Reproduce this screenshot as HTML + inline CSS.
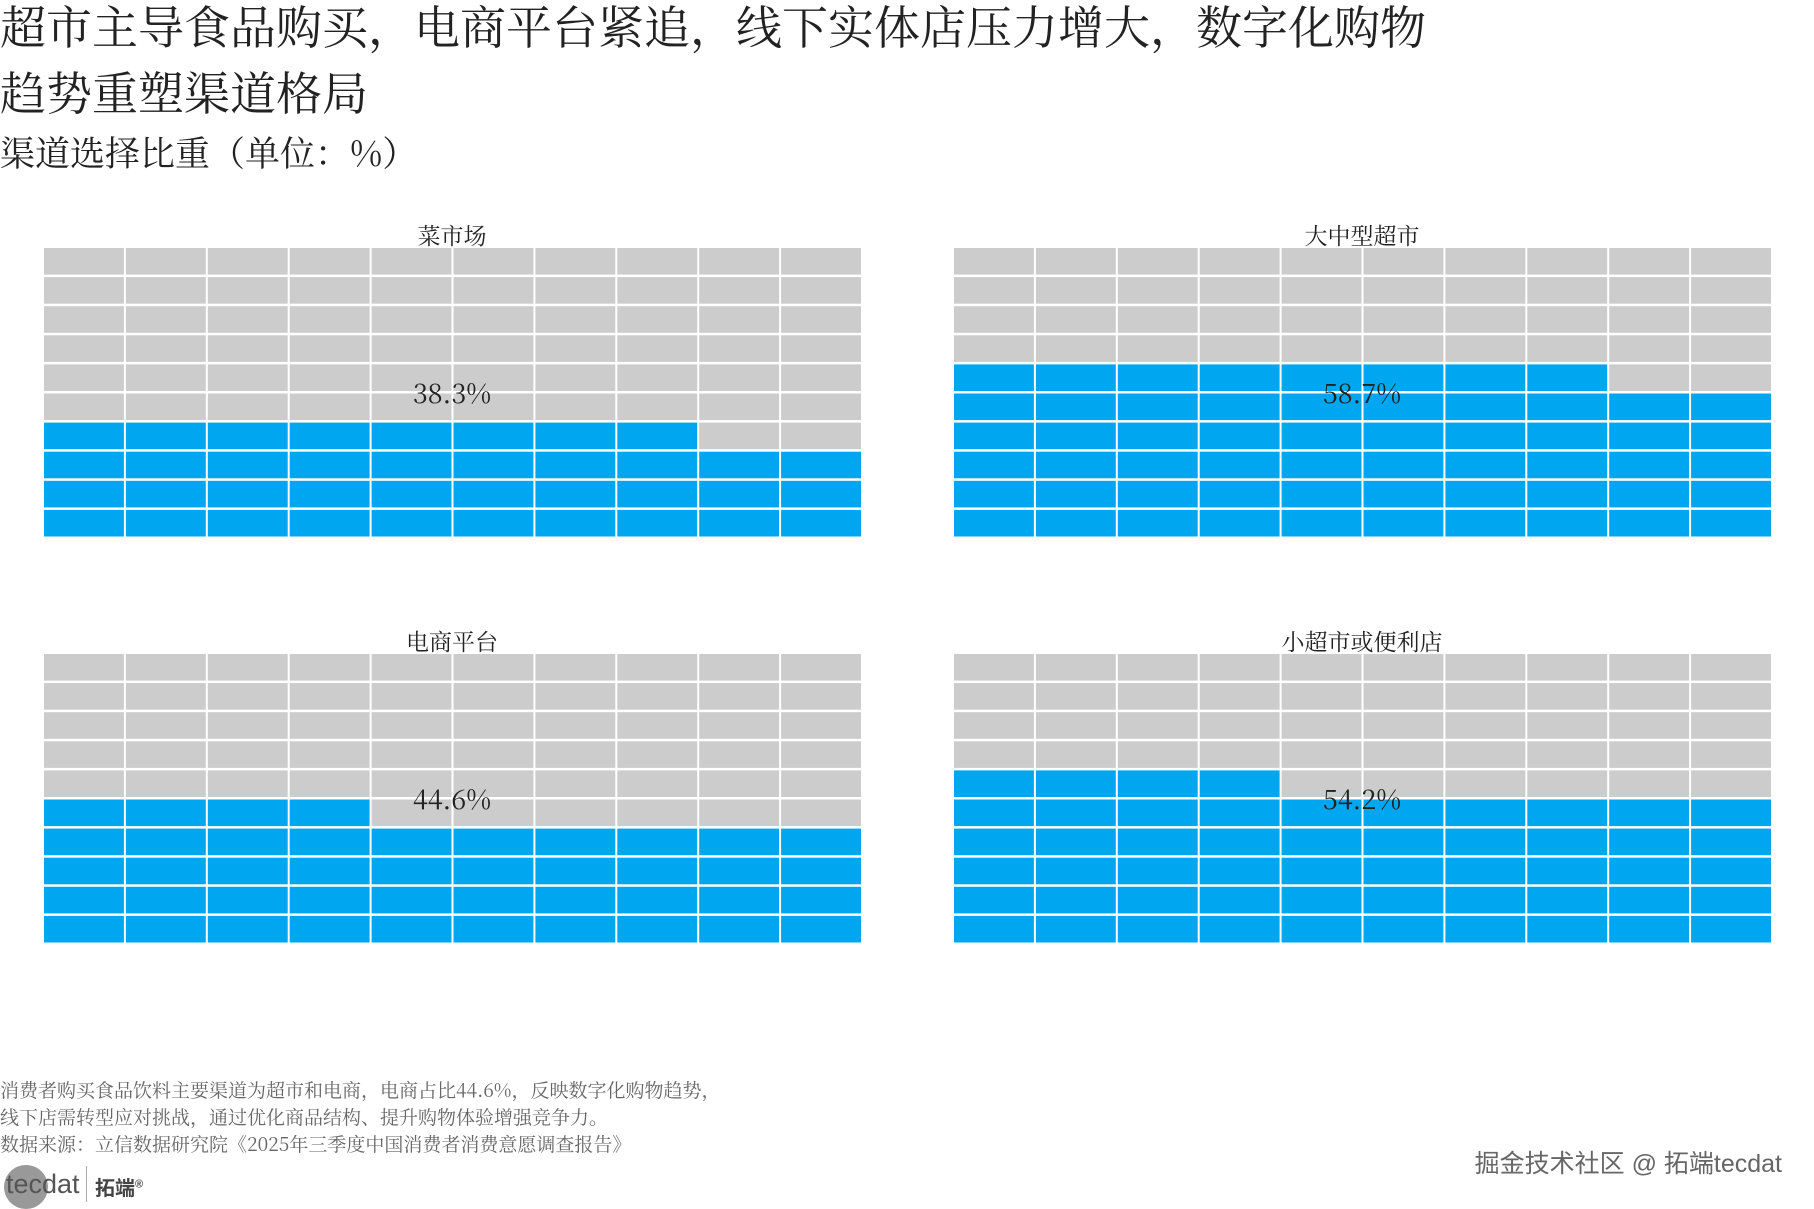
<!DOCTYPE html>
<html><head><meta charset="utf-8"><style>
html,body{margin:0;padding:0;background:#fff;}
body{width:1814px;height:1209px;overflow:hidden;position:relative;font-family:"Liberation Serif","Noto Serif CJK SC",serif;color:#222;}
.t{position:absolute;left:0;white-space:nowrap;}
</style></head><body>
<div class="t" style="top:1px;font-size:46px;line-height:56px;">超市主导食品购买，电商平台紧追，线下实体店压力增大，数字化购物</div>
<div class="t" style="top:67px;font-size:46px;line-height:56px;">趋势重塑渠道格局</div>
<div class="t" style="top:131px;font-size:35px;line-height:42px;font-family:'Noto Serif CJK SC',serif;">渠道选择比重（单位：%）</div>
<svg id="s" width="1814" height="1209" style="position:absolute;left:0;top:0" xmlns="http://www.w3.org/2000/svg">
<g font-family="Liberation Serif, Noto Serif CJK SC, serif" fill="#222" text-anchor="middle">
<text x="452" y="244" font-size="23">菜市场</text>
<text x="1362" y="244" font-size="23">大中型超市</text>
<text x="452" y="650" font-size="23">电商平台</text>
<text x="1362" y="650" font-size="23">小超市或便利店</text>
</g>
<g id="cells"></g>
<g font-family="Noto Serif CJK SC, serif" fill="#222" text-anchor="middle" font-size="27">
<text x="452" y="403">38.3%</text>
<text x="1362" y="403">58.7%</text>
<text x="452" y="809">44.6%</text>
<text x="1362" y="809">54.2%</text>
</g>
</svg>
<div class="t" style="top:1076px;font-size:19px;line-height:27px;color:#666;font-family:'Noto Serif CJK SC',serif;">消费者购买食品饮料主要渠道为超市和电商，电商占比44.6%，反映数字化购物趋势，<br>线下店需转型应对挑战，通过优化商品结构、提升购物体验增强竞争力。<br>数据来源：立信数据研究院《2025年三季度中国消费者消费意愿调查报告》</div>
<div style="position:absolute;left:4px;top:1165px;width:44px;height:44px;border-radius:50%;background:#999;"></div>
<div class="t" style="left:6px;top:1169px;font-family:'Liberation Sans',sans-serif;font-size:27px;color:#555;">tecdat</div>
<div style="position:absolute;left:86px;top:1166px;width:1px;height:36px;background:#aaa;"></div>
<div class="t" style="left:95px;top:1172px;font-family:'Liberation Sans','Noto Sans CJK SC',sans-serif;font-size:20px;font-weight:bold;color:#444;">拓端<sup style="font-size:11px">®</sup></div>
<div class="t" style="left:auto;right:32px;top:1144px;font-family:'Liberation Sans','Noto Sans CJK SC',sans-serif;font-size:25px;color:#666;">掘金技术社区 @ 拓端tecdat</div>
<script>
var g=document.getElementById('cells'),ns='http://www.w3.org/2000/svg';
var panels=[[43,247,38],[953,247,58],[43,653,44],[953,653,54]];
var W=819,H=291,cw=W/10,ch=H/10;
panels.forEach(function(p){
 for(var r=0;r<10;r++){for(var c=0;c<10;c++){
  var idx=(9-r)*10+c; var blue=idx<p[2];
  var e=document.createElementNS(ns,'rect');
  e.setAttribute('x',(p[0]+c*cw+1).toFixed(1));e.setAttribute('y',(p[1]+r*ch+1).toFixed(1));
  e.setAttribute('width',(cw-2).toFixed(1));e.setAttribute('height',(ch-2.5).toFixed(1));
  e.setAttribute('fill',blue?'#00a6ef':'#cccccc');g.appendChild(e);
 }}
});
</script>
</body></html>
